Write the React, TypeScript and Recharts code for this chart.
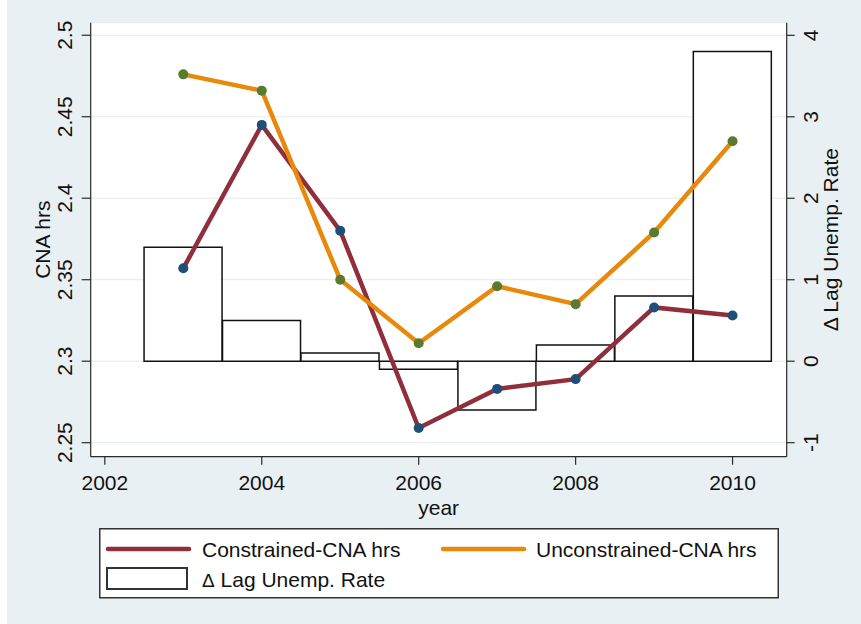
import { ComposedChart, Bar, Line, XAxis, YAxis, CartesianGrid } from 'recharts'

const years = [2003, 2004, 2005, 2006, 2007, 2008, 2009, 2010]
const constrainedHrs = [2.357, 2.445, 2.38, 2.259, 2.283, 2.289, 2.333, 2.328]
const unconstrainedHrs = [2.476, 2.466, 2.35, 2.311, 2.346, 2.335, 2.379, 2.435]
const lagUnempChange = [1.4, 0.5, 0.1, -0.1, -0.6, 0.2, 0.8, 3.8]

const yearTicks = [2002, 2004, 2006, 2008, 2010]
const hrsTicks = [2.25, 2.3, 2.35, 2.4, 2.45, 2.5]
const rateTicks = [-1, 0, 1, 2, 3, 4]

const data = years.map((year, i) => ({
  year,
  constrained: constrainedHrs[i],
  unconstrained: unconstrainedHrs[i],
  unemp: lagUnempChange[i],
}))

const FONT = '"Liberation Sans", Arial, Helvetica, sans-serif'
const FS = 21
const MAROON = '#8E2F3B'
const ORANGE = '#E8890C'
const NAVY = '#1F4E79'
const GREEN = '#5A7A2E'
const BG = '#E9F0F3'
const AXIS = '#2a2a2a'

// plot box in page pixels
const W = 861
const H = 624
const PLOT = { left: 90.7, right: 786.7, top: 22.7, bottom: 456.7 }
const X_DOMAIN = [2001.82, 2010.69]

const XTick = ({ x, y, payload }: any) => (
  <text x={x} y={y + 23} textAnchor="middle" fontSize={FS} fontFamily={FONT} fill="#111">
    {payload.value}
  </text>
)

const LeftTick = ({ x, y, payload }: any) => (
  <text transform={`translate(${x - 8},${y}) rotate(-90)`} textAnchor="middle" fontSize={FS} fontFamily={FONT} fill="#111">
    {payload.value}
  </text>
)

const RightTick = ({ x, y, payload }: any) => (
  <text transform={`translate(${x + 21},${y}) rotate(-90)`} textAnchor="middle" fontSize={FS} fontFamily={FONT} fill="#111">
    {payload.value}
  </text>
)

function LegendBox() {
  return (
    <svg width={680} height={71} style={{ position: 'absolute', left: 99, top: 528 }}>
      <rect x={0.75} y={0.75} width={678.5} height={69} fill="#fff" stroke="#333" strokeWidth={1.5} />
      <line x1={9} y1={21} x2={90} y2={21} stroke={MAROON} strokeWidth={4.5} strokeLinecap="round" />
      <text x={103} y={29} fontSize={FS} fontFamily={FONT} fill="#111">Constrained-CNA hrs</text>
      <line x1={344} y1={21} x2={425} y2={21} stroke={ORANGE} strokeWidth={4.5} strokeLinecap="round" />
      <text x={437} y={29} fontSize={FS} fontFamily={FONT} fill="#111">Unconstrained-CNA hrs</text>
      <rect x={8} y={40} width={80} height={21} fill="#fff" stroke="#333" strokeWidth={2} />
      <text x={103} y={59} fontSize={FS} fontFamily={FONT} fill="#111">
        <tspan fontSize={19}>Δ</tspan> Lag Unemp. Rate
      </text>
    </svg>
  )
}

export default function App() {
  const midY = (PLOT.top + PLOT.bottom) / 2
  const midX = (PLOT.left + PLOT.right) / 2
  return (
    <div style={{ position: 'absolute', left: 0, top: 0, width: W, height: H, background: '#fff' }}>
      <div style={{ position: 'absolute', left: 7, top: 0, right: 0, bottom: 0, background: BG }} />
      <div style={{ position: 'absolute', left: 0, top: 0 }}>
        <ComposedChart
          width={W}
          height={H}
          data={data}
          barCategoryGap={0}
          barGap={0}
          margin={{ top: PLOT.top, right: W - PLOT.right - 60, bottom: H - PLOT.bottom - 60, left: PLOT.left - 60 }}
        >
          <CartesianGrid yAxisId="left" vertical={false} stroke="#E3EBEE" strokeWidth={1} fill="#fff" />
          <XAxis
            dataKey="year"
            type="number"
            domain={X_DOMAIN}
            allowDataOverflow
            ticks={yearTicks}
            interval={0}
            height={60}
            tickSize={8}
            tick={<XTick />}
            axisLine={{ stroke: AXIS, strokeWidth: 1.2 }}
            tickLine={{ stroke: AXIS, strokeWidth: 1.2 }}
          />
          <YAxis
            yAxisId="left"
            orientation="left"
            type="number"
            domain={[2.2414, 2.5077]}
            allowDataOverflow
            ticks={hrsTicks}
            interval={0}
            width={60}
            tickSize={9}
            tick={<LeftTick />}
            axisLine={{ stroke: AXIS, strokeWidth: 1.2 }}
            tickLine={{ stroke: AXIS, strokeWidth: 1.2 }}
          />
          <YAxis
            yAxisId="right"
            orientation="right"
            type="number"
            domain={[-1.172, 4.155]}
            allowDataOverflow
            ticks={rateTicks}
            interval={0}
            width={60}
            tickSize={8}
            tick={<RightTick />}
            axisLine={{ stroke: AXIS, strokeWidth: 1.2 }}
            tickLine={{ stroke: AXIS, strokeWidth: 1.2 }}
          />
          <Bar
            yAxisId="right"
            dataKey="unemp"
            fill="#fff"
            stroke="#111"
            strokeWidth={1.5}
            isAnimationActive={false}
          />
          <Line
            yAxisId="left"
            dataKey="constrained"
            stroke="none"
            strokeWidth={0}
            dot={{ r: 5, fill: NAVY, stroke: 'none' }}
            activeDot={false}
            isAnimationActive={false}
          />
          <Line
            yAxisId="left"
            dataKey="constrained"
            type="linear"
            stroke={MAROON}
            strokeWidth={4.5}
            dot={false}
            activeDot={false}
            isAnimationActive={false}
          />
          <Line
            yAxisId="left"
            dataKey="unconstrained"
            stroke="none"
            strokeWidth={0}
            dot={{ r: 5, fill: GREEN, stroke: 'none' }}
            activeDot={false}
            isAnimationActive={false}
          />
          <Line
            yAxisId="left"
            dataKey="unconstrained"
            type="linear"
            stroke={ORANGE}
            strokeWidth={4.5}
            dot={false}
            activeDot={false}
            isAnimationActive={false}
          />
        </ComposedChart>
      </div>
      <svg width={W} height={H} style={{ position: 'absolute', left: 0, top: 0, pointerEvents: 'none' }}>
        <text transform={`translate(50,${midY}) rotate(-90)`} textAnchor="middle" fontSize={FS} fontFamily={FONT} fill="#111">
          CNA hrs
        </text>
        <text transform={`translate(837.5,${midY}) rotate(-90)`} textAnchor="middle" fontSize={FS} fontFamily={FONT} fill="#111">
          Δ Lag Unemp. Rate
        </text>
        <text x={midX} y={515} textAnchor="middle" fontSize={FS} fontFamily={FONT} fill="#111">
          year
        </text>
      </svg>
      <LegendBox />
    </div>
  )
}
